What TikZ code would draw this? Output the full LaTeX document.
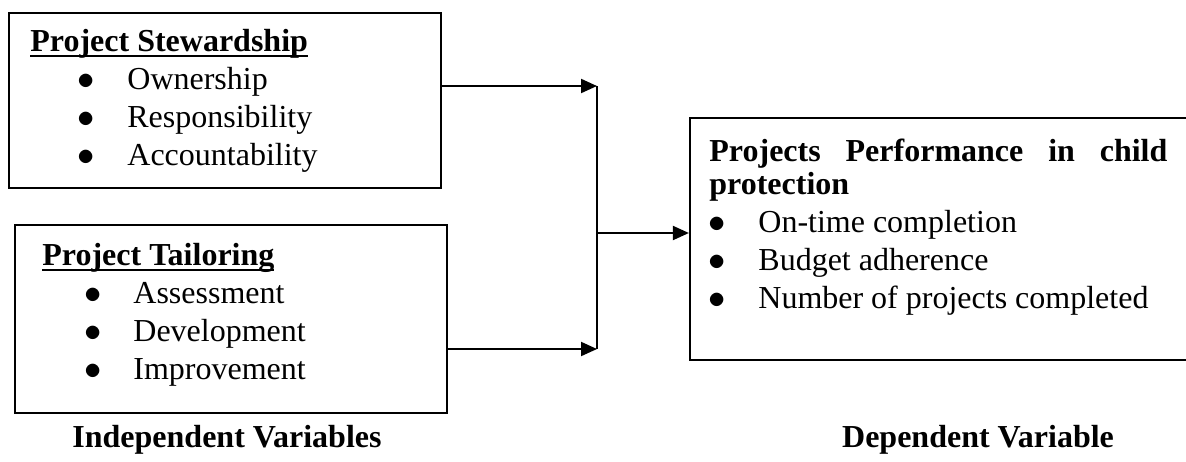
\documentclass[tikz,border=0pt]{standalone}
\usepackage{fontspec}
\setmainfont{Liberation Serif}
\usetikzlibrary{arrows.meta}

\tikzset{
  varbox/.style={draw, line width=1.1pt, inner sep=0pt},
  head/.style={anchor=west, inner sep=0pt, font=\bfseries, text height=11pt, text depth=4pt},
  entry/.style={anchor=west, inner sep=0pt, text height=11pt, text depth=4pt},
  link/.style={line width=1pt, -{Triangle[length=8pt,width=7pt]}},
}
\newcommand{\bul}[2]{\makebox[#1][l]{$\bullet$}#2}
\newcommand{\ulhead}[1]{\setbox0=\hbox{#1}\rlap{\rule[-3.2pt]{\wd0}{1.4pt}}\box0}

\begin{document}
\fontsize{16}{19}\selectfont
\begin{tikzpicture}[x=0.5pt,y=-0.5pt]
\clip (0,0) rectangle (1186,461);
% boxes
\node[varbox, minimum width=216pt, minimum height=87.5pt] (stew) at (225,100.5) {};
\node[varbox, minimum width=216pt, minimum height=94pt] (tail) at (231,319) {};
\node[varbox, minimum width=260pt, minimum height=121pt] (perf) at (950,239) {};
% independent variables
\node[head] (stewhead) at (30,44) {\ulhead{Project Stewardship}};
\foreach \t [count=\i] in {Ownership,Responsibility,Accountability}
  \node[entry] (stew-\i) at (77,44+38*\i) {\bul{25pt}{\t}};
\node[head] (tailhead) at (42,258) {\ulhead{Project Tailoring}};
\foreach \t [count=\i] in {Assessment,Development,Improvement}
  \node[entry] (tail-\i) at (84,258+38*\i) {\bul{24.5pt}{\t}};
% dependent variable
\node[head] (perfhead) at (709,154) {\makebox[229pt][s]{Projects Performance in child}};
\node[head] (perfhead2) at (709,187) {protection};
\foreach \t [count=\i] in {On-time completion,Budget adherence,Number of projects completed}
  \node[entry] (perf-\i) at (708,187+38*\i) {\bul{25pt}{\t}};
% connectors
\coordinate (jtop) at (597,86);
\coordinate (jbot) at (597,349);
\coordinate (jmid) at (597,233);
\draw[link] (stew.east |- jtop) -- (jtop);
\draw[link] (tail.east |- jbot) -- (jbot);
\draw[line width=1pt] (jtop) -- (jbot);
\draw[link] (jmid) -- (perf.west |- jmid);
% captions
\node[font=\bfseries] (indep) at (227,440) {Independent Variables};
\node[font=\bfseries] (dep) at (978,440) {Dependent Variable};
\end{tikzpicture}
\end{document}
